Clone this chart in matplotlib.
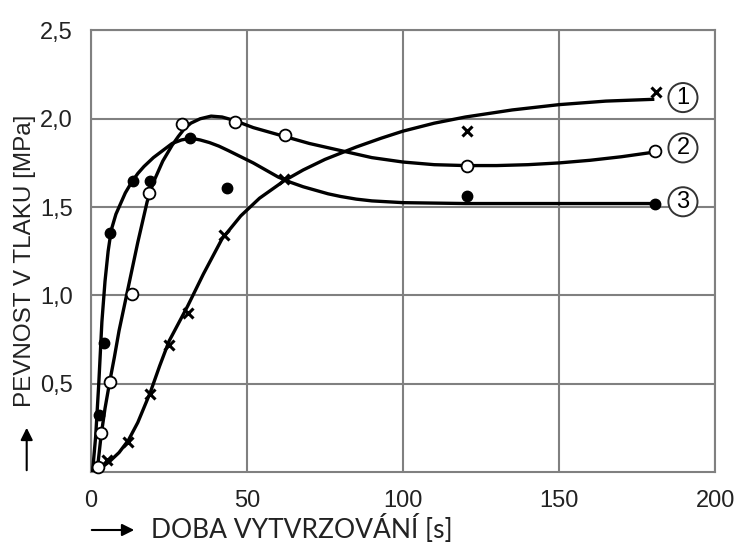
import matplotlib.pyplot as plt

## Data
x_ticks = [0, 50, 100, 150, 200]
y_ticks = [0.5, 1.0, 1.5, 2.0, 2.5]
y_tick_labels = ["0,5", "1,0", "1,5", "2,0", "2,5"]

## Curve 1 (crosses)
curve1_x = [0, 3, 6, 9, 12, 15, 19, 22, 25, 28, 31, 36, 42, 48, 54, 62, 68, 75, 85, 93,
            100, 110, 120, 135, 150, 165, 180]
curve1_y = [0.0, 0.02, 0.06, 0.11, 0.18, 0.28, 0.45, 0.60, 0.74, 0.84, 0.94, 1.12, 1.32,
            1.45, 1.55, 1.65, 1.71, 1.77, 1.84, 1.89, 1.93, 1.975, 2.01, 2.05, 2.08, 2.10, 2.11]
points1_x = [5, 12, 19, 25, 31, 42.5, 62, 120.5, 181]
points1_y = [0.07, 0.17, 0.44, 0.72, 0.90, 1.34, 1.66, 1.93, 2.15]

## Curve 2 (open circles)
curve2_x = [1, 2.2, 3.2, 4.5, 6, 7.5, 9, 12, 15, 18, 20, 23, 26, 28, 30, 32, 35, 38.5,
            42, 46, 52, 58, 62, 70, 80, 90, 100, 110, 120, 130, 140, 150, 160, 170, 180]
curve2_y = [0.0, 0.04, 0.20, 0.36, 0.51, 0.65, 0.80, 1.05, 1.30, 1.53, 1.64, 1.76, 1.85,
            1.90, 1.945, 1.975, 2.0, 2.015, 2.01, 1.99, 1.95, 1.92, 1.90, 1.86, 1.82, 1.78,
            1.755, 1.74, 1.735, 1.735, 1.74, 1.75, 1.765, 1.785, 1.81]
points2_x = [2.2, 3.2, 6, 13.1, 18.5, 29.2, 46.3, 62.1, 120.5, 180.8]
points2_y = [0.03, 0.22, 0.51, 1.01, 1.58, 1.97, 1.98, 1.91, 1.73, 1.82]

## Curve 3 (filled circles)
curve3_x = [0.5, 1.5, 2.5, 3.5, 4.5, 5.5, 6.5, 8, 9.5, 11, 13, 15, 17, 20, 23, 26, 29,
            32, 35, 38, 41, 44, 48, 52, 56, 60, 64, 68, 72, 76, 80, 85, 90, 95, 100,
            120, 150, 180]
curve3_y = [0.0, 0.2, 0.5, 0.85, 1.08, 1.25, 1.37, 1.46, 1.52, 1.58, 1.64, 1.69, 1.73,
            1.78, 1.82, 1.86, 1.88, 1.89, 1.88, 1.865, 1.845, 1.82, 1.785, 1.75, 1.71,
            1.67, 1.64, 1.615, 1.595, 1.575, 1.56, 1.545, 1.535, 1.53, 1.525, 1.52,
            1.52, 1.52]
points3_x = [2.5, 4.1, 6.2, 13.5, 18.9, 31.8, 43.6, 120.5, 180.8]
points3_y = [0.32, 0.73, 1.355, 1.65, 1.65, 1.89, 1.61, 1.56, 1.52]

labels = ["1", "2", "3"]
label_x = [189.7, 189.7, 189.7]
label_y = [2.12, 1.835, 1.53]

plt.rcParams['font.family'] = ['Liberation Sans', 'DejaVu Sans']

fig = plt.figure(figsize=(7.36, 5.44), dpi=100)
ax = fig.add_axes([0.1236, 0.1324, 0.848, 0.8116])

grid_color = "#808080"
ax.set_xlim(0, 200)
ax.set_ylim(0, 2.5)
ax.set_xticks(x_ticks)
ax.set_xticklabels([str(v) for v in x_ticks])
ax.set_yticks(y_ticks)
ax.set_yticklabels(y_tick_labels)
ax.tick_params(length=0, labelsize=17, pad=13, colors="#222222")
ax.grid(True, color=grid_color, linewidth=1.5)
for s in ax.spines.values():
    s.set_color(grid_color)
    s.set_linewidth(1.5)

## Curves
ax.plot(curve1_x, curve1_y, color="black", linewidth=2.4, zorder=3)
ax.plot(curve2_x, curve2_y, color="black", linewidth=2.4, zorder=3)
ax.plot(curve3_x, curve3_y, color="black", linewidth=2.4, zorder=3)

## Measured points
ax.plot(points1_x, points1_y, "x", color="black", markersize=7, markeredgewidth=2.2,
        zorder=4, clip_on=False)
ax.plot(points2_x, points2_y, "o", markerfacecolor="white", markeredgecolor="black",
        markersize=8.5, markeredgewidth=1.3, zorder=4, clip_on=False)
ax.plot(points3_x, points3_y, "o", color="black", markersize=7.5, zorder=4, clip_on=False)

## Circled numbers
for t, lx, ly in zip(labels, label_x, label_y):
    ax.text(lx, ly, t, fontsize=17, ha="center", va="center", zorder=5,
            bbox=dict(boxstyle="circle,pad=0.15", facecolor="white",
                      edgecolor="#333333", linewidth=1.4))

## Axis titles with arrows
fig.text(0.034, 0.52, "PEVNOST V TLAKU [MPa]", rotation=90, fontsize=17.5,
         ha="center", va="center", color="#222222")
ax.annotate("", xy=(26.7, 119), xytext=(26.7, 71), xycoords="figure pixels",
            textcoords="figure pixels",
            arrowprops=dict(arrowstyle="-|>", color="black", linewidth=1.5,
                            mutation_scale=18))

fig.text(151 / 736, 15 / 544, "DOBA VYTVRZOVÁNÍ [s]", fontsize=19, ha="left",
         va="center", color="#222222", family=['Lato', 'DejaVu Sans'])
ax.annotate("", xy=(137, 14), xytext=(89, 14), xycoords="figure pixels",
            textcoords="figure pixels",
            arrowprops=dict(arrowstyle="-|>", color="black", linewidth=1.5,
                            mutation_scale=18))

fig.savefig("out.png", dpi=100)
